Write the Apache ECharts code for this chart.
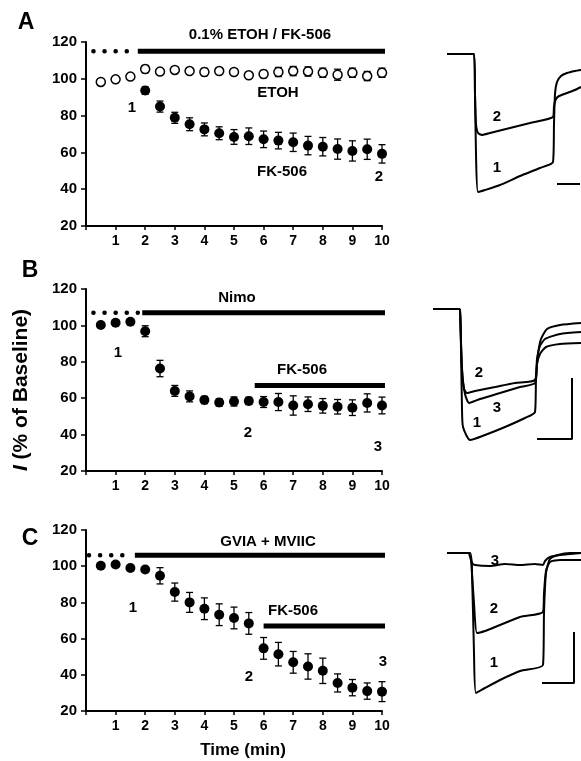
<!DOCTYPE html>
<html><head><meta charset="utf-8">
<script src="https://cdn.jsdelivr.net/npm/echarts@6/dist/echarts.min.js"></script>
<style>html,body{margin:0;padding:0;background:#fff}#c{width:581px;height:761px}</style>
</head><body><div id="c"></div>
<script>
// ---------- DATA ----------
const times = [0.5,1,1.5,2,2.5,3,3.5,4,4.5,5,5.5,6,6.5,7,7.5,8,8.5,9,9.5,10];
const xTicks = [1,2,3,4,5,6,7,8,9,10];
const yTicks = [20,40,60,80,100,120];
// Panel A
const etohMean = [98.3,99.7,101.2,105.3,103.9,104.8,104.2,103.7,104.2,103.7,101.9,102.6,103.7,104.2,104,103.3,102.2,103.3,101.5,103.3];
const etohErr  = [1,1,1.5,2,1.5,1.5,1.5,2,1.5,1.5,1.5,2,2.5,2.5,2.5,2.5,3,2.5,2.5,2.5];
const fkATimes = [2,2.5,3,3.5,4,4.5,5,5.5,6,6.5,7,7.5,8,8.5,9,9.5,10];
const fkAMean  = [93.6,84.9,78.8,75.3,72.5,70.4,68.4,68.8,67.1,66.4,65.5,63.7,63.1,61.8,60.8,61.7,59.2];
const fkAErr   = [2,3,3,3.5,3.5,3.5,4,4.5,4.5,4.5,5,5,5,5.5,5.5,5.5,5];
// Panel B
const nimoMean = [100.2,101.5,102,96.8,76.3,64,61,59,57.6,58.2,58.5,57.9,57.9,56,56.7,55.8,55.3,54.8,57.4,56];
const nimoErr  = [1,1,1,3,4.5,3,3,2,2,2.5,2,3,4.7,5.3,4,4,4,4.3,5,4.6];
// Panel C
const gviaMean = [100.2,100.9,99,98.2,94.7,85.7,80,76.5,73.2,71.4,68.4,54.6,51.4,46.9,44.6,42.2,35.5,32.9,31,30.7];
const gviaErr  = [1,1,1,1,4.5,5,5.5,6,6,6,6,6,6.5,6,7,7,5,4.5,4.5,5.5];
// treatment bars: [xStart, xEnd, y]
const barsA = {dotted:[0.25,1.4,115], solid:[1.75,10.2,115]};
const barsB = {dotted:[0.25,1.75,107], solid:[1.9,10.2,107], fk:[5.7,10.1,67]};
const barsC = {dotted:[0.1,1.5,106], solid:[1.65,10.5,106], fk:[6.0,10.55,67]};
// current traces (time units, current units; baseline 0)
const trA1 = [[7,0],[34,0],[35,-40],[36,-100],[38,-138],[45,-136],[60,-131],[80,-122],[100,-114],[113,-108],[114,-70],[115,-40],[117,-28],[121,-22],[127,-19],[135,-17],[141,-16]];
const trA2 = [[7,0],[34,0],[35,-40],[36,-70],[38,-79],[42,-81],[50,-79],[70,-74],[90,-69],[113,-63],[114,-52],[116,-45],[119,-42],[127,-39],[135,-36],[141,-33]];
const barA = [[117,-130],[140,-130]];
const trB1 = [[8,0],[35,0],[36,-40],[37,-100],[38,-118],[45,-131],[60,-126],[80,-118],[100,-109],[110,-103],[111,-70],[113,-45],[116,-30],[122,-20],[135,-16],[156,-14]];
const trB2 = [[35,0],[37,-60],[39,-80],[42,-84],[50,-82],[70,-78],[90,-74],[110,-71],[112,-50],[115,-37],[120,-30],[135,-25],[156,-23]];
const trB3 = [[35,0],[37,-60],[40,-85],[44,-94],[55,-90],[75,-84],[95,-78],[110,-74],[112,-55],[115,-45],[121,-38],[135,-35],[156,-34]];
const barB = [[112,-130],[147,-130],[147,-69]];
const trC1 = [[7,0],[30,0],[32,-20],[34,-100],[36,-140],[45,-135],[60,-127],[80,-118],[103,-112],[104,-60],[106,-20],[110,-6],[118,-2],[130,0],[141,0]];
const trC2 = [[31,-5],[34,-50],[37,-80],[45,-78],[60,-72],[80,-64],[103,-59],[104,-40],[106,-18],[110,-9],[120,-7],[141,-7]];
const trC3 = [[29,0],[32,-10],[35,-12],[50,-13],[65,-11],[80,-12],[95,-11],[103,-12],[105,-8],[110,-4],[120,-2],[141,0]];
const barC = [[102,-130],[134,-130],[134,-79]];

// ---------- CHART ----------
const FONT = 'Liberation Sans, Arial, sans-serif';
const chart = echarts.init(document.getElementById('c'));
const mainGrids = [
  {left:86, top:42, width:296, height:184},
  {left:86, top:289, width:296, height:182},
  {left:86, top:530, width:296, height:181}
];
const traceGrids = [
  {left:440, top:40, width:141, height:170, x:[0,141], y:[-156,14]},
  {left:425, top:290, width:156, height:170, x:[0,156], y:[-151,19]},
  {left:440, top:540, width:141, height:170, x:[0,141], y:[-157,13]}
];
const grid = [], xAxis = [], yAxis = [], series = [];
mainGrids.forEach((g,i)=>{
  grid.push({left:g.left, top:g.top, width:g.width, height:g.height});
  xAxis.push({type:'value', gridIndex:i, min:0, max:10, interval:1,
    axisLine:{lineStyle:{color:'#000', width:2}},
    axisTick:{length:4, lineStyle:{color:'#000', width:1.5}},
    splitLine:{show:false},
    axisLabel:{color:'#000', fontFamily:FONT, fontWeight:'bold', fontSize:14, margin:8,
      formatter:v=> xTicks.includes(v) ? String(v) : ''}});
  yAxis.push({type:'value', gridIndex:i, min:20, max:120, interval:20,
    axisLine:{show:true, lineStyle:{color:'#000', width:2}},
    axisTick:{show:true, length:5, lineStyle:{color:'#000', width:1.5}},
    splitLine:{show:false},
    axisLabel:{color:'#000', fontFamily:FONT, fontWeight:'bold', fontSize:15, margin:9,
      formatter:v=> yTicks.includes(v) ? String(v) : ''}});
});
traceGrids.forEach((g,i)=>{
  grid.push({left:g.left, top:g.top, width:g.width, height:g.height});
  xAxis.push({type:'value', gridIndex:3+i, min:g.x[0], max:g.x[1], show:false});
  yAxis.push({type:'value', gridIndex:3+i, min:g.y[0], max:g.y[1], show:false});
});

function errSeries(idx, xs, m, e){
  return {type:'custom', xAxisIndex:idx, yAxisIndex:idx, z:2, silent:true,
    data: xs.map((x,k)=>[x, m[k]+e[k], m[k]-e[k]]),
    renderItem:(params, api)=>{
      const top = api.coord([api.value(0), api.value(1)]);
      const bot = api.coord([api.value(0), api.value(2)]);
      const w = 3.5;
      const st = {stroke:'#000', lineWidth:1.3};
      return {type:'group', children:[
        {type:'line', shape:{x1:top[0], y1:top[1], x2:bot[0], y2:bot[1]}, style:st},
        {type:'line', shape:{x1:top[0]-w, y1:top[1], x2:top[0]+w, y2:top[1]}, style:st},
        {type:'line', shape:{x1:bot[0]-w, y1:bot[1], x2:bot[0]+w, y2:bot[1]}, style:st}
      ]};
    }};
}
function pts(idx, xs, m, open){
  return {type:'scatter', xAxisIndex:idx, yAxisIndex:idx, z:3, symbol:'circle', silent:true,
    symbolSize: open ? 9 : 10,
    itemStyle: open ? {color:'#fff', borderColor:'#000', borderWidth:1.5, opacity:1} : {color:'#000', opacity:1},
    data: xs.map((x,k)=>[x, m[k]])};
}
function bar(idx, b, dotted){
  return {type:'line', xAxisIndex:idx, yAxisIndex:idx, clip:false, symbol:'none', z:4, silent:true,
    lineStyle: dotted ? {color:'#000', width:4.5, type:[0.1,11], cap:'round'} : {color:'#000', width:5},
    data:[[b[0],b[2]],[b[1],b[2]]]};
}
function trace(idx, d){
  return {type:'line', xAxisIndex:idx, yAxisIndex:idx, clip:false, symbol:'none', smooth:0.2, silent:true,
    lineStyle:{color:'#000', width:2}, data:d};
}
function sbar(idx, d){
  return {type:'line', xAxisIndex:idx, yAxisIndex:idx, clip:false, symbol:'none', silent:true,
    lineStyle:{color:'#000', width:2}, data:d};
}
// Panel A
series.push(errSeries(0, times, etohMean, etohErr), pts(0, times, etohMean, true));
series.push(errSeries(0, fkATimes, fkAMean, fkAErr), pts(0, fkATimes, fkAMean, false));
series.push(bar(0, barsA.dotted, true), bar(0, barsA.solid, false));
// Panel B
series.push(errSeries(1, times, nimoMean, nimoErr), pts(1, times, nimoMean, false));
series.push(bar(1, barsB.dotted, true), bar(1, barsB.solid, false), bar(1, barsB.fk, false));
// Panel C
series.push(errSeries(2, times, gviaMean, gviaErr), pts(2, times, gviaMean, false));
series.push(bar(2, barsC.dotted, true), bar(2, barsC.solid, false), bar(2, barsC.fk, false));
// traces
series.push(trace(3, trA1), trace(3, trA2), sbar(3, barA));
series.push(trace(4, trB1), trace(4, trB2), trace(4, trB3), sbar(4, barB));
series.push(trace(5, trC1), trace(5, trC2), trace(5, trC3), sbar(5, barC));

function txt(x, y, s, size, align){
  return {type:'text', x:x, y:y, style:{text:s, fill:'#000', font:'bold '+(size||15)+'px '+FONT,
    textAlign:align||'center', textVerticalAlign:'middle'}, z:10};
}
const graphic = [
  txt(26, 23, 'A', 23), txt(30, 271, 'B', 23), txt(30, 539, 'C', 23),
  txt(260, 35, '0.1% ETOH / FK-506'), txt(278, 93, 'ETOH'), txt(282, 172, 'FK-506'),
  txt(132, 108, '1'), txt(379, 177, '2'),
  txt(237, 298, 'Nimo'), txt(302, 370, 'FK-506'),
  txt(118, 353, '1'), txt(248, 433, '2'), txt(378, 447, '3'),
  txt(268, 542, 'GVIA + MVIIC'), txt(293, 611, 'FK-506'),
  txt(133, 608, '1'), txt(249, 677, '2'), txt(383, 662, '3'),
  txt(497, 117, '2'), txt(497, 168, '1'),
  txt(479, 373, '2'), txt(497, 408, '3'), txt(477, 423, '1'),
  txt(495, 561, '3'), txt(494, 609, '2'), txt(494, 663, '1'),
  txt(243, 750, 'Time (min)', 17),
  {type:'text', x:21, y:390, rotation:Math.PI/2, z:10,
    style:{text:'{i|I} (% of Baseline)', fill:'#000', font:'bold 21px '+FONT,
      textAlign:'center', textVerticalAlign:'middle',
      rich:{i:{fontStyle:'italic', fontWeight:'bold', fontSize:21, fontFamily:FONT}}}}
];
chart.setOption({animation:false, backgroundColor:'#fff', grid, xAxis, yAxis, series, graphic});
</script></body></html>
